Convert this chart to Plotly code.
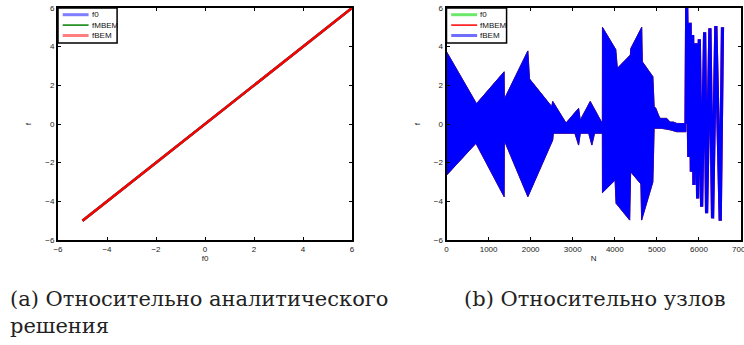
import plotly.graph_objects as go

# ---- (a) solution versus the analytic one ----
f0_a = [-5.0, 6.0]
fMBEM_a = [-5.0, 6.0]
fBEM_a = [-5.0, 6.0]

# ---- (b) solution versus node number: envelope of the dense oscillation ----
upper_N = [0, 713, 1370, 1375, 1934, 1973, 2500, 2525, 2841, 3140, 3180, 3416,
           3680, 3705, 3707, 4023, 4062, 4370, 4380, 4640, 4655, 4905, 4936,
           4975, 5038, 5077, 5156, 5235, 5314, 5393, 5472, 5550, 5629, 5693]
upper_f = [3.74, 1.05, 2.70, 1.29, 3.78, 2.33, 0.90, 1.17, 0.05, 0.81, 0.20, 1.17,
           0.12, 0.12, 5.00, 3.85, 2.88, 3.57, 3.90, 5.00, 3.22, 2.45, 0.90,
           0.81, 0.46, 0.29, 0.29, 0.29, 0.10, 0.10, 0.03, 0.03, 0.02, 0.02]
lower_N = [0, 700, 1370, 1375, 1934, 2525, 2540, 3051, 3140, 3180, 3380, 3455,
           3520, 3705, 3707, 4007, 4030, 4354, 4377, 4620, 4638, 4905, 4936,
           5100, 5314, 5472, 5693]
lower_f = [-2.65, -1.00, -3.76, -0.86, -3.76, -0.83, -0.48, -0.48, -1.09, -0.48,
           -0.48, -1.09, -0.48, -0.48, -3.55, -2.90, -4.10, -4.97, -2.47, -3.10,
           -4.97, -3.00, -0.22, -0.22, -0.30, -0.40, -0.40]

# individual swings near the end of the node range (peak / trough values)
swing_N = [5693, 5709, 5760, 5790, 5820, 5850, 5882, 5930, 5969, 6009, 6064,
           6135, 6182, 6261, 6324, 6402, 6506, 6560]
swing_f = [0.0, 6.0, -1.70, 5.24, -2.47, 4.60, -3.16, 4.17, -3.85, 4.38, -4.28,
           4.74, -4.62, 4.95, -4.88, 5.07, -5.00, 5.00]

ticks_ab = [-6, -4, -2, 0, 2, 4, 6]
ticks_N = [0, 1000, 2000, 3000, 4000, 5000, 6000, 7000]

legend_a = [("f0", "#7f7fff", 3), ("fMBEM", "#007f00", 1.5), ("fBEM", "#ff7f7f", 3)]
legend_b = [("f0", "#6be86b", 3), ("fMBEM", "#ff0000", 1.5), ("fBEM", "#6f6fff", 3)]

fig = go.Figure()

# left panel: three coincident lines
fig.add_trace(go.Scatter(x=f0_a, y=f0_a, mode="lines", line=dict(color="#0000ff", width=2.5),
                         xaxis="x", yaxis="y", showlegend=False))
fig.add_trace(go.Scatter(x=f0_a, y=fMBEM_a, mode="lines", line=dict(color="#007f00", width=2.5),
                         xaxis="x", yaxis="y", showlegend=False))
fig.add_trace(go.Scatter(x=f0_a, y=fBEM_a, mode="lines", line=dict(color="#ff0000", width=2.5),
                         xaxis="x", yaxis="y", showlegend=False))

# right panel: dense band as a closed envelope polygon, then the individual swings
band_N = upper_N + lower_N[::-1]
band_f = upper_f + lower_f[::-1]
for col, w in (("#00ff00", 0.6), ("#ff0000", 0.8), ("#0000ff", 0.8)):
    fig.add_trace(go.Scatter(x=band_N, y=band_f, mode="lines", fill="toself",
                             fillcolor=col, line=dict(color=col, width=w),
                             xaxis="x2", yaxis="y2", showlegend=False, hoverinfo="skip"))
for col, w in (("#ff0000", 3.2), ("#0000ff", 3.2)):
    fig.add_trace(go.Scatter(x=swing_N, y=swing_f, mode="lines",
                             line=dict(color=col, width=w),
                             xaxis="x2", yaxis="y2", showlegend=False, hoverinfo="skip"))

axis_common = dict(showline=True, linecolor="black", linewidth=2, mirror="ticks",
                   ticks="inside", ticklen=3, tickwidth=1, tickcolor="black",
                   showgrid=False, zeroline=False, ticklabeloverflow="allow",
                   automargin=False,
                   tickfont=dict(family="Liberation Sans, Arial", size=8, color="#222"),
                   title_font=dict(family="Liberation Sans, Arial", size=8, color="#222"))

W, H = 744, 345
dom_y = [1 - 240 / H, 1 - 8 / H]
fig.update_layout(
    width=W, height=H, margin=dict(l=0, r=0, t=0, b=0, autoexpand=False),
    paper_bgcolor="white", plot_bgcolor="white", showlegend=False,
    xaxis=dict(domain=[58 / W, 352 / W], range=[-6, 6], tickvals=ticks_ab,
               title=dict(text="f0", standoff=3), **axis_common),
    yaxis=dict(domain=dom_y, range=[-6, 6], tickvals=ticks_ab,
               title=dict(text="f", standoff=12), **axis_common),
    xaxis2=dict(domain=[446.5 / W, 741 / W], range=[0, 7000], tickvals=ticks_N,
                anchor="y2", title=dict(text="N", standoff=3), **axis_common),
    yaxis2=dict(domain=dom_y, range=[-6, 6], tickvals=ticks_ab, anchor="x2",
                title=dict(text="f", standoff=12), **axis_common),
)

# legend boxes drawn inside the top-left corner of each panel
shapes, annotations = [], []
for xr, yr, entries, box_w in (("x", "y", legend_a, 0.201), ("x2", "y2", legend_b, 0.204)):
    xd, yd = xr + " domain", yr + " domain"
    shapes.append(dict(type="rect", xref=xd, yref=yd, x0=0, x1=box_w, y0=1 - 35 / 232, y1=1,
                       line=dict(color="black", width=1.5), fillcolor="white", layer="above"))
    for i, (name, col, w) in enumerate(entries):
        yy = 1 - (6.7 + 10.4 * i) / 232
        shapes.append(dict(type="line", xref=xd, yref=yd, x0=0.016, x1=0.104, y0=yy, y1=yy,
                           line=dict(color=col, width=w), layer="above"))
        annotations.append(dict(xref=xd, yref=yd, x=0.108, y=yy, text=name, showarrow=False,
                                xanchor="left", yanchor="middle",
                                font=dict(family="Liberation Sans, Arial", size=8, color="#111")))

cap_font = dict(family="DejaVu Serif", size=21, color="#222")
annotations += [
    dict(xref="paper", yref="paper", x=8 / W, y=1 - 299 / H, xanchor="left", yanchor="middle",
         text="(a) Относительно аналитического", showarrow=False, font=cap_font),
    dict(xref="paper", yref="paper", x=8 / W, y=1 - 326 / H, xanchor="left", yanchor="middle",
         text="решения", showarrow=False, font=cap_font),
    dict(xref="paper", yref="paper", x=462 / W, y=1 - 299 / H, xanchor="left", yanchor="middle",
         text="(b) Относительно узлов", showarrow=False, font=cap_font),
]
fig.update_layout(shapes=shapes, annotations=annotations)

fig.write_html("out.html")
